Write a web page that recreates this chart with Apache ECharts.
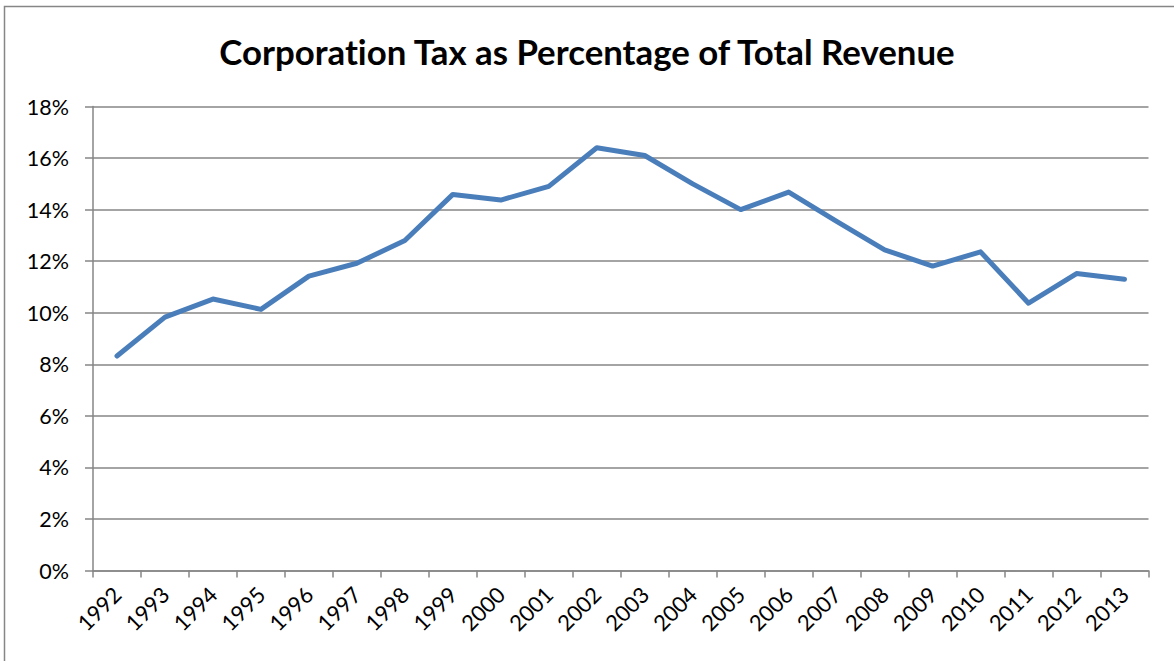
<!DOCTYPE html>
<html>
<head>
<meta charset="utf-8">
<script src="https://cdn.jsdelivr.net/npm/echarts@6/dist/echarts.min.js"></script>
<style>
  html, body { margin: 0; padding: 0; background: #fff; }
  #chart { width: 1174px; height: 661px; }
  #chart text { font-variant-ligatures: none; font-feature-settings: "liga" 0, "clig" 0; }
</style>
</head>
<body>
<div id="chart"></div>
<script>
const titleText = 'Corporation Tax as Percentage of Total Revenue';
const years = ['1992','1993','1994','1995','1996','1997','1998','1999','2000','2001','2002',
               '2003','2004','2005','2006','2007','2008','2009','2010','2011','2012','2013'];
const corpTaxPct = [8.32, 9.83, 10.53, 10.13, 11.42, 11.92, 12.8, 14.59, 14.37, 14.9, 16.4,
                    16.1, 15.0, 14.0, 14.68, 13.54, 12.44, 11.81, 12.36, 10.37, 11.52, 11.3];
const yMin = 0, yMax = 18, yStep = 2;

const chart = echarts.init(document.getElementById('chart'), null, { renderer: 'svg' });
const fontFam = 'Lato, "Liberation Sans", sans-serif';
chart.setOption({
  animation: false,
  backgroundColor: '#fff',
  graphic: [{
    type: 'polyline',
    shape: { points: [[4.5, 700], [4.5, 6.5], [1200, 6.5]] },
    style: { stroke: '#868686', lineWidth: 1.5, fill: null },
    silent: true
  }],
  title: {
    text: titleText,
    left: 'center',
    top: 28.5,
    textStyle: { fontFamily: fontFam, fontSize: 34.8, fontWeight: 'bold', color: '#000' }
  },
  grid: { left: 93, right: 25.5, top: 106.5, bottom: 90.5, containLabel: false },
  xAxis: {
    type: 'category',
    data: years,
    boundaryGap: true,
    axisLine: { lineStyle: { color: '#868686', width: 1.5 } },
    axisTick: { show: true, length: 7, alignWithLabel: false, lineStyle: { color: '#868686', width: 1.5 } },
    axisLabel: { rotate: 45, margin: 20, fontFamily: fontFam, fontSize: 22, color: '#000', interval: 0 },
    splitLine: { show: false }
  },
  yAxis: {
    type: 'value',
    min: yMin, max: yMax, interval: yStep,
    axisLine: { show: true, lineStyle: { color: '#868686', width: 1.5 } },
    axisTick: { show: true, length: 8, lineStyle: { color: '#868686', width: 1.5 } },
    axisLabel: { formatter: v => v + '%', margin: 24, fontFamily: fontFam, fontSize: 21.5, color: '#000' },
    splitLine: { show: true, lineStyle: { color: '#868686', width: 1.5 } }
  },
  series: [{
    type: 'line',
    data: corpTaxPct,
    symbol: 'none',
    lineStyle: { color: '#4a7ebb', width: 5, cap: 'round', join: 'round' },
    z: 5
  }]
});
</script>
</body>
</html>
